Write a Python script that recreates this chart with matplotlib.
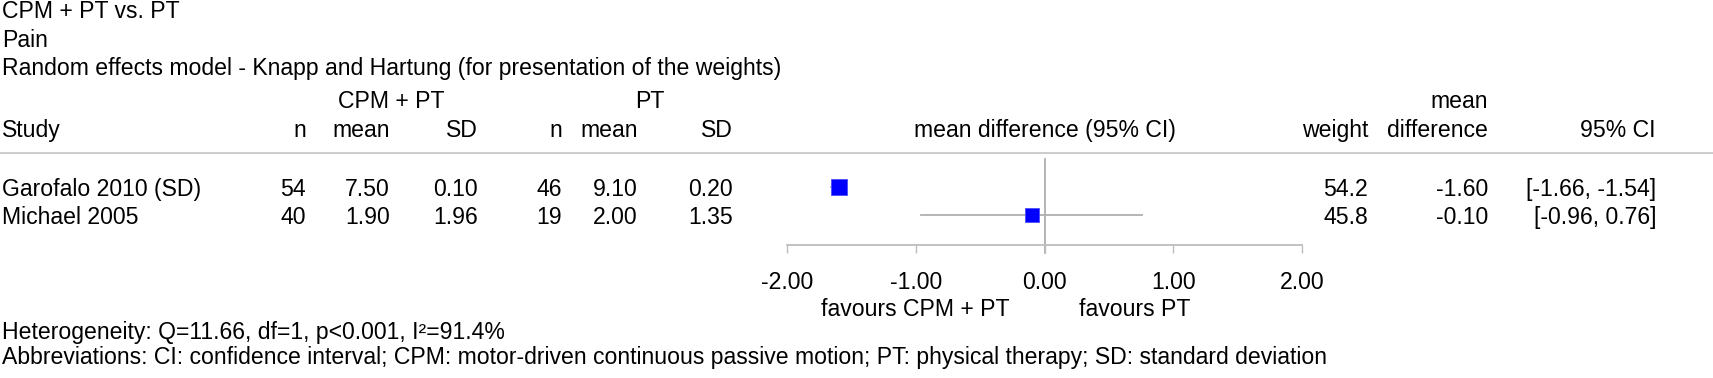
import numpy as np
import matplotlib.pyplot as plt
from matplotlib.transforms import blended_transform_factory

plt.rcParams['font.family'] = ['Liberation Sans', 'DejaVu Sans']

title_lines = ["CPM + PT vs. PT", "Pain",
               "Random effects model - Knapp and Hartung (for presentation of the weights)"]
studies = ["Garofalo 2010 (SD)", "Michael 2005"]
n_cpm = [54, 40]
mean_cpm = [7.50, 1.90]
sd_cpm = [0.10, 1.96]
n_pt = [46, 19]
mean_pt = [9.10, 2.00]
sd_pt = [0.20, 1.35]
weights = [54.2, 45.8]
md = [-1.60, -0.10]
ci_lo = [-1.66, -0.96]
ci_hi = [-1.54, 0.76]
xticks = [-2, -1, 0, 1, 2]
hetero = "Heterogeneity: Q=11.66, df=1, p<0.001, I\u00b2=91.4%"
abbrev = ("Abbreviations: CI: confidence interval; CPM: motor-driven continuous passive motion; "
          "PT: physical therapy; SD: standard deviation")

W, H = 1713, 378
fs = 16.6
fig = plt.figure(figsize=(W / 100, H / 100), dpi=100)


def fx(x):
    return x / W


def fy(y):
    return 1 - y / H


def txt(x, y, s, ha='left', **kw):
    fig.text(fx(x), fy(y), s, ha=ha, va='baseline', fontsize=fs, color='black', **kw)


# header text
for i, line in enumerate(title_lines):
    txt(2, 18.5 + i * 28.3, line)
txt(391, 108.5, "CPM + PT", ha='center')
txt(650, 108.5, "PT", ha='center')
txt(1488, 108.5, "mean", ha='right')
txt(2, 137, "Study")
col_x = [306, 390, 478, 562, 638, 733]
for x, s in zip(col_x, ["n", "mean", "SD", "n", "mean", "SD"]):
    txt(x, 137, s, ha='right')
txt(1044.7, 137, "mean difference (95% CI)", ha='center')
txt(1368, 137, "weight", ha='right')
txt(1488, 137, "difference", ha='right')
txt(1656, 137, "95% CI", ha='right')

# separator line across the whole figure
fig.add_artist(plt.Line2D([0, 1], [fy(152.7), fy(152.7)], transform=fig.transFigure,
                          color='#c8c8c8', lw=1.3))

# forest plot axes
ax = fig.add_axes([fx(787), fy(245), fx(1302 - 787), (245 - 159) / H])
ypos = np.arange(len(studies), 0, -1)
ax.set_xlim(-2, 2)
ax.set_ylim(-0.054, 3.018)
for y, lo, hi in zip(ypos, ci_lo, ci_hi):
    ax.plot([lo, hi], [y, y], color='#b0b0b0', lw=1.3, zorder=2)
for y, m, w in zip(ypos, md, weights):
    ax.plot(m, y, marker='s', color='#0000ff', markeredgecolor='#4d4dff',
            markeredgewidth=0.6, markersize=1.467 * np.sqrt(w), zorder=3)
ax.axvline(0, ymin=-8 / 86, ymax=1, color='#a8a8a8', lw=1.2, clip_on=False, zorder=1)

for s in ['top', 'left', 'right']:
    ax.spines[s].set_visible(False)
ax.spines['bottom'].set_bounds(-2, 2)
ax.spines['bottom'].set_color('#bdbdbd')
ax.spines['bottom'].set_linewidth(1.3)
ax.set_yticks([])
ax.set_xticks(xticks)
ax.set_xticklabels([f"{t:.2f}" for t in xticks], fontsize=fs)
ax.tick_params(axis='x', direction='out', length=5.8, width=1.0, color='#bdbdbd', pad=13.0)
ax.patch.set_visible(False)

# favours labels
tr_fav = blended_transform_factory(ax.transData, fig.transFigure)
ax.text(-0.27, fy(316.5), "favours CPM + PT", transform=tr_fav, ha='right', va='baseline', fontsize=fs)
ax.text(0.27, fy(316.5), "favours PT", transform=tr_fav, ha='left', va='baseline', fontsize=fs)

# table rows
tr_row = blended_transform_factory(fig.transFigure, ax.transData)
for i, y in enumerate(ypos):
    vals = [f"{n_cpm[i]}", f"{mean_cpm[i]:.2f}", f"{sd_cpm[i]:.2f}",
            f"{n_pt[i]}", f"{mean_pt[i]:.2f}", f"{sd_pt[i]:.2f}"]
    fig.text(fx(2), y, studies[i], transform=tr_row, ha='left', va='center_baseline', fontsize=fs)
    for x, v in zip(col_x, vals):
        fig.text(fx(x), y, v, transform=tr_row, ha='right', va='center_baseline', fontsize=fs)
    fig.text(fx(1368), y, f"{weights[i]:.1f}", transform=tr_row, ha='right', va='center_baseline', fontsize=fs)
    fig.text(fx(1488), y, f"{md[i]:.2f}", transform=tr_row, ha='right', va='center_baseline', fontsize=fs)
    fig.text(fx(1656), y, f"[{ci_lo[i]:.2f}, {ci_hi[i]:.2f}]", transform=tr_row,
             ha='right', va='center_baseline', fontsize=fs)

txt(2, 338.5, hetero)
txt(2, 364, abbrev)

fig.savefig("out.png", dpi=100)
